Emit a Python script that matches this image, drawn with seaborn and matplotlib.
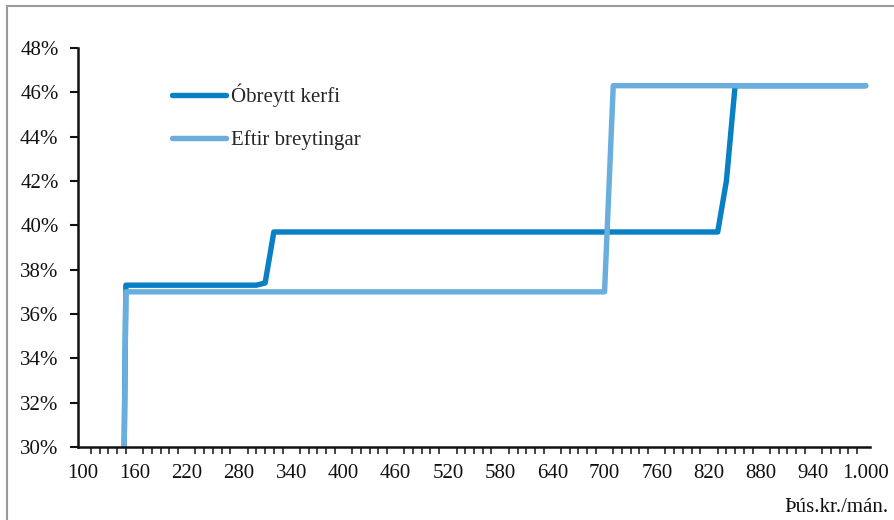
import matplotlib
matplotlib.use("Agg")
import matplotlib.pyplot as plt
from matplotlib.patches import Rectangle
import pandas as pd
import seaborn as sns

# Marginal rate by monthly income (thousand ISK), corner points of each curve
obreytt_x = [140, 150, 300, 310, 320, 830, 840, 850, 1000]
obreytt_y = [0.0, 0.373, 0.373, 0.374, 0.397, 0.397, 0.420, 0.463, 0.463]

eftir_x = [140, 150, 700, 710, 1000]
eftir_y = [0.0, 0.370, 0.370, 0.463, 0.463]

series_names = ["Óbreytt kerfi", "Eftir breytingar"]
series_colors = ["#0A80C4", "#6AAEDD"]

x_ticks = [100, 160, 220, 280, 340, 400, 460, 520, 580, 640, 700, 760, 820, 880, 940, 1000]
x_tick_labels = ["100", "160", "220", "280", "340", "400", "460", "520", "580",
                 "640", "700", "760", "820", "880", "940", "1.000"]
y_ticks = [0.30, 0.32, 0.34, 0.36, 0.38, 0.40, 0.42, 0.44, 0.46, 0.48]
y_tick_labels = ["30%", "32%", "34%", "36%", "38%", "40%", "42%", "44%", "46%", "48%"]
x_unit_label = "Þús.kr./mán."

df = pd.concat([
    pd.DataFrame({"tekjur": obreytt_x, "hlutfall": obreytt_y, "kerfi": series_names[0]}),
    pd.DataFrame({"tekjur": eftir_x, "hlutfall": eftir_y, "kerfi": series_names[1]}),
], ignore_index=True)

sns.set_style("white")
plt.rcParams["font.family"] = ["Liberation Serif", "DejaVu Serif"]

fig = plt.figure(figsize=(8.95, 5.2), dpi=100)
ax = fig.add_axes([78 / 895, 73 / 520, 792 / 895, 399 / 520])

sns.lineplot(data=df, x="tekjur", y="hlutfall", hue="kerfi",
             hue_order=series_names, palette=series_colors,
             linewidth=3.9, sort=False, estimator=None, ax=ax)
for line in ax.get_lines():
    line.set_solid_joinstyle("round")
    line.set_solid_capstyle("round")

ax.set_xlim(95, 1005)
ax.set_ylim(0.30, 0.48)
ax.set_xlabel("")
ax.set_ylabel("")

ax.set_xticks(x_ticks)
ax.set_xticklabels(x_tick_labels)
ax.set_xticks(range(100, 1001, 10), minor=True)
ax.set_yticks(y_ticks)
ax.set_yticklabels(y_tick_labels)

ax.tick_params(axis="x", which="major", length=0, pad=12, labelsize=15, colors="#111111")
ax.tick_params(axis="x", which="minor", direction="out", length=5, width=1.1, color="#111111", bottom=True)
ax.tick_params(axis="y", which="major", direction="out", length=6, width=1.5,
               pad=8, labelsize=15, colors="#111111", left=True)

for side in ["top", "right"]:
    ax.spines[side].set_visible(False)
for side in ["left", "bottom"]:
    ax.spines[side].set_color("#111111")
    ax.spines[side].set_linewidth(1.8)

leg = ax.legend(loc="upper left", bbox_to_anchor=(0.095, 0.958), frameon=False,
                fontsize=15, handlelength=2.6, handletextpad=0.25, labelspacing=1.1)
for h in leg.get_lines():
    h.set_linewidth(3.9)
    h.set_solid_capstyle("round")

fig.text(888 / 895, 1 - 508 / 520, x_unit_label, ha="right", va="center",
         fontsize=15, color="#111111")

# light grey frame around the chart area
fig.patches.append(Rectangle((7 / 895, -0.1), 1.2, 1.1 - 6 / 520,
                             transform=fig.transFigure, fill=False,
                             edgecolor="#9a9a9a", linewidth=1.5))

fig.savefig("out.png", dpi=100)
